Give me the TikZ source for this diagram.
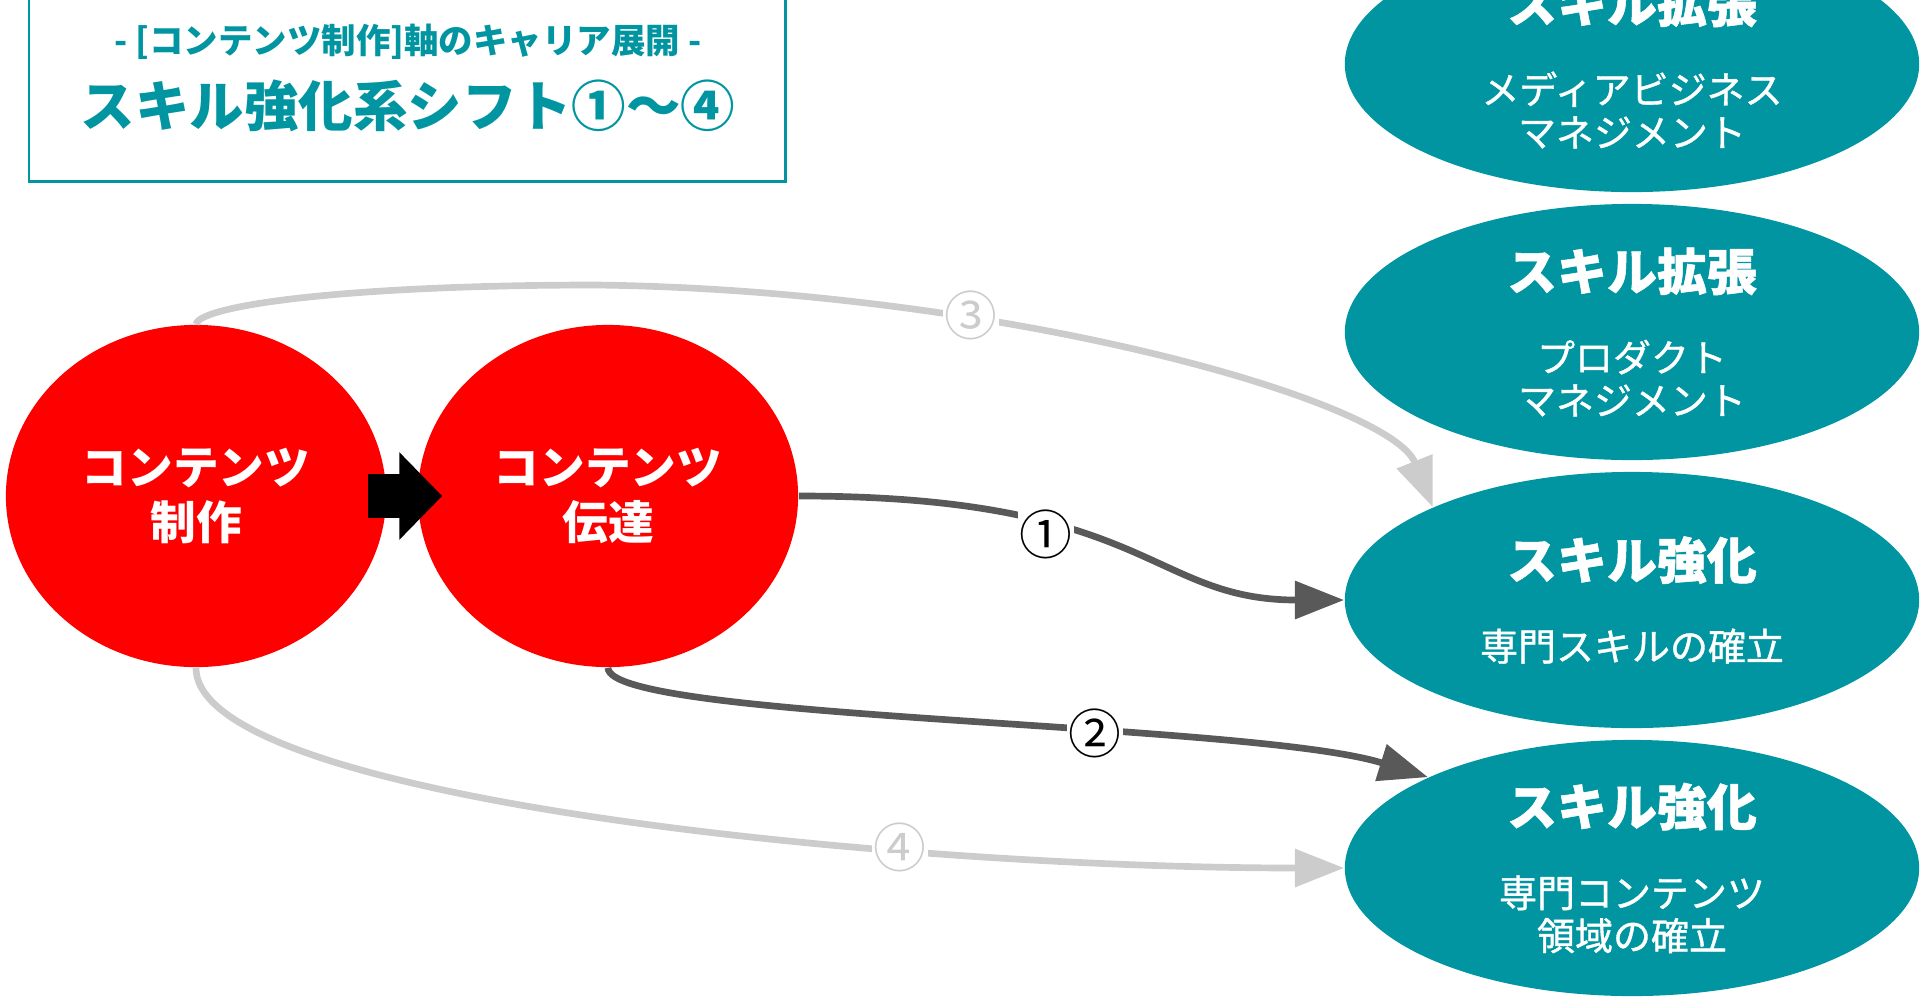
\documentclass[tikz,border=0pt]{standalone}
\usepackage{fontspec}
\setmainfont{Noto Sans CJK JP}
\newfontfamily\subfont{Noto Sans CJK JP}[FakeBold=1]
\usepackage{tikz}
\usetikzlibrary{shapes.geometric,arrows.meta,positioning,calc}
\definecolor{tealmain}{RGB}{0,149,160}
\definecolor{redmain}{RGB}{255,0,0}
\definecolor{darkline}{RGB}{89,89,89}
\definecolor{lightline}{RGB}{204,204,204}
\newcommand{\skilltitle}[1]{{\fontsize{14.2}{16}\selectfont\bfseries #1}}

\begin{document}
\begin{tikzpicture}[
    x=0.01cm, y=0.01cm,
    field/.style={ellipse, fill=redmain, text=white, inner sep=0pt, minimum width=3.8cm, minimum height=3.42cm, align=center, font=\fontsize{13}{15.6}\selectfont\bfseries},
    skill/.style={ellipse, fill=tealmain, text=white, inner sep=0pt, minimum width=5.74cm, minimum height=2.56cm, align=center, font=\subfont\fontsize{10.8}{12.2}\selectfont},
    shiftdark/.style={-{Triangle[length=14pt, width=10.5pt]}, line width=1.9pt, darkline},
    shiftlight/.style={-{Triangle[length=14pt, width=10.5pt]}, line width=1.9pt, lightline},
    num/.style={fill=white, inner sep=0.6pt, font=\fontsize{15}{15}\selectfont},
    block/.style={-{Triangle[length=12.2pt, width=24.2pt]}, line width=12.5pt, black}
]
    \useasboundingbox (0,0) rectangle (1920,-1005);
    \clip (0,0) rectangle (1920,-1005);

    % title
    \draw[tealmain, line width=0.85pt] (29,20) rectangle (785,-181);
    \node[text=tealmain, align=center, font=\fontsize{15.5}{17.9}\selectfont\bfseries] (title) at (408,-78)
        {{\fontsize{9.8}{11}\selectfont - [コンテンツ制作]軸のキャリア展開 -}\\[3pt]スキル強化系シフト①〜④};

    % red fields
    \node[field] (cre) at (196,-496) {コンテンツ\\制作};
    \node[field] (dlv) at (608,-496) {コンテンツ\\伝達};

    % teal skills
    \node[skill] (skA) at (1632,-64) {\skilltitle{スキル拡張}\\[11pt]メディアビジネス\\マネジメント};
    \node[skill] (skB) at (1632,-332) {\skilltitle{スキル拡張}\\[11pt]プロダクト\\マネジメント};
    \node[skill] (skC) at (1632,-600) {\skilltitle{スキル強化}\\[11pt]専門スキルの確立};
    \node[skill] (skD) at (1632,-868) {\skilltitle{スキル強化}\\[11pt]専門コンテンツ\\領域の確立};

    \draw[block] ($(cre.east)+(-19,0)$) -- ($(dlv.west)+(25,0)$);

    % shifts
    \draw[shiftdark] (dlv.east) .. controls (1150,-496) and (1150,-600) .. (skC.west);
    \draw[shiftdark] (dlv.south) .. controls (608,-720) and (1250,-722) .. (skD.156);
    \draw[shiftlight] (cre.north) .. controls (200,-305) and (350,-285) .. (596,-285)
        .. controls (1000,-290) and (1390,-400) .. (skC.155);
    \draw[shiftlight] (cre.south) .. controls (196,-800) and (900,-868) .. (skD.west);

    \node[num] (n1) at (1046,-534) {①};
    \node[num] (n2) at (1095,-733) {②};
    \node[num, text=lightline] (n3) at (971,-315) {③};
    \node[num, text=lightline] (n4) at (900,-847) {④};
\end{tikzpicture}
\end{document}
